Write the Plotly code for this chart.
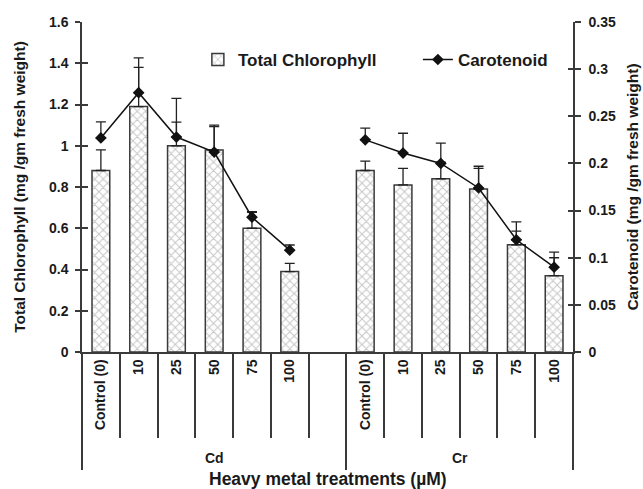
import plotly.graph_objects as go

sub_labels = ["Control (0)", "10", "25", "50", "75", "100"]
groups = ["Cd", "Cr"]

chl_cd = [0.88, 1.19, 1.00, 0.98, 0.60, 0.39]
chl_cd_err = [0.10, 0.19, 0.115, 0.12, 0.08, 0.04]
chl_cr = [0.88, 0.81, 0.84, 0.79, 0.52, 0.37]
chl_cr_err = [0.045, 0.08, 0.08, 0.10, 0.066, 0.087]

car_cd = [0.227, 0.275, 0.228, 0.212, 0.143, 0.108]
car_cd_err = [0.017, 0.037, 0.041, 0.027, 0.005, 0.0055]
car_cr = [0.225, 0.211, 0.200, 0.174, 0.119, 0.090]
car_cr_err = [0.0125, 0.021, 0.0216, 0.023, 0.019, 0.016]

# build slots: 6 Cd, one blank slot, 6 Cr
n = len(sub_labels)
xs = list(range(2 * n + 1))
chl = chl_cd + [None] + chl_cr
chl_err = chl_cd_err + [0] + chl_cr_err
car = car_cd + [None] + car_cr
car_err = car_cd_err + [0] + car_cr_err
zeros = [0] * len(xs)
tick_text = sub_labels + [""] + sub_labels
tick_pos = xs
short_bounds = [i + 0.5 for i in range(n - 1)] + [n - 0.5] + [n + 1 + i + 0.5 for i in range(n - 1)]
long_bounds = [-0.5, n + 0.5, 2 * n + 0.5]
group_centers = [(-0.5 + n + 0.5) / 2, (n + 0.5 + 2 * n + 0.5) / 2]
xr = [-0.5, 2 * n + 0.5]
yr_l = [0, 1.6]
yr_r = [0, 0.35]

FONT = "Liberation Sans, Arial, sans-serif"
AX = "#3a3a3a"
TXT = "#1a1a1a"

fig = go.Figure()
fig.add_trace(go.Bar(
    x=xs, y=chl, name="Total Chlorophyll", width=0.47,
    marker=dict(color="white", line=dict(color=AX, width=1.5),
                pattern=dict(shape="x", fgcolor="#8c8c8c", bgcolor="white", size=6, solidity=0.3)),
    error_y=dict(type="data", symmetric=False, array=chl_err, arrayminus=zeros, visible=True,
                 color="#222", thickness=1.3, width=5),
))
fig.add_trace(go.Scatter(
    x=xs, y=car, name="Carotenoid", yaxis="y2", mode="lines+markers",
    connectgaps=False,
    line=dict(color="#111", width=1.5),
    marker=dict(symbol="diamond", size=9, color="#111"),
    error_y=dict(type="data", symmetric=False, array=car_err, arrayminus=zeros, visible=True,
                 color="#222", thickness=1.3, width=5),
))

tickfont = dict(family=FONT, size=14, color=TXT, weight="bold")
titlefont = dict(family=FONT, size=15.5, color=TXT, weight="bold")

# invisible traces to activate overlay axes used only for tick marks
fig.add_trace(go.Scatter(x=[None], y=[None], xaxis="x2", yaxis="y", showlegend=False, hoverinfo="skip"))
fig.add_trace(go.Scatter(x=[None], y=[None], xaxis="x3", yaxis="y", showlegend=False, hoverinfo="skip"))
fig.add_trace(go.Scatter(x=[None], y=[None], xaxis="x", yaxis="y3", showlegend=False, hoverinfo="skip"))
fig.add_trace(go.Scatter(x=[None], y=[None], xaxis="x", yaxis="y4", showlegend=False, hoverinfo="skip"))

fig.update_layout(
    width=643, height=489,
    margin=dict(l=82, r=70, t=22, b=137, autoexpand=False),
    plot_bgcolor="white", paper_bgcolor="white",
    showlegend=True,
    legend=dict(orientation="h", x=0.236, y=0.885, xanchor="left", yanchor="middle",
                font=dict(family=FONT, size=17, color=TXT, weight="bold"),
                bgcolor="rgba(0,0,0,0)", entrywidth=175, entrywidthmode="pixels"),
    xaxis=dict(range=xr, tickmode="array", tickvals=tick_pos, ticktext=tick_text,
               tickangle=-90, ticks="", showline=True, linecolor=AX, linewidth=1.5,
               tickfont=tickfont, showgrid=False, zeroline=False, automargin=False),
    xaxis2=dict(overlaying="x", range=xr, side="bottom", tickmode="array", tickvals=short_bounds,
                ticks="outside", ticklen=85, tickwidth=1.5, tickcolor=AX, showticklabels=False,
                showline=False, showgrid=False, zeroline=False, automargin=False),
    xaxis3=dict(overlaying="x", range=xr, side="bottom", tickmode="array", tickvals=long_bounds,
                ticks="outside", ticklen=117, tickwidth=1.5, tickcolor=AX, showticklabels=False,
                showline=False, showgrid=False, zeroline=False, automargin=False),
    yaxis=dict(range=yr_l, dtick=0.2, ticks="outside", ticklen=5, tickwidth=1.5, tickcolor=AX,
               showline=True, linecolor=AX, linewidth=1.5, showgrid=False, zeroline=False,
               tickfont=tickfont, ticklabelstandoff=4, automargin=False,
               title=dict(text="Total Chlorophyll (mg /gm fresh weight)", font=titlefont, standoff=20)),
    yaxis3=dict(overlaying="y", range=yr_l, side="left", dtick=0.2, ticks="inside", ticklen=6,
                tickwidth=1.5, tickcolor=AX, showticklabels=False, showline=False, showgrid=False,
                zeroline=False, automargin=False),
    yaxis2=dict(overlaying="y", side="right", range=yr_r, dtick=0.05, ticks="outside", ticklen=6,
                tickwidth=1.5, tickcolor=AX, showline=True, linecolor=AX, linewidth=1.5,
                showgrid=False, zeroline=False, tickfont=tickfont, ticklabelstandoff=5,
                automargin=False,
                title=dict(text="Carotenoid (mg /gm fresh weight)", font=titlefont, standoff=12)),
    yaxis4=dict(overlaying="y", range=yr_r, side="right", dtick=0.05, ticks="inside", ticklen=5,
                tickwidth=1.5, tickcolor=AX, showticklabels=False, showline=False, showgrid=False,
                zeroline=False, automargin=False),
)

for g, c in zip(groups, group_centers):
    fig.add_annotation(x=c, xref="x", y=-0.32, yref="paper", text=g, showarrow=False,
                       font=tickfont, yanchor="middle")
fig.add_annotation(x=0.5, xref="paper", y=-0.385, yref="paper",
                   text="Heavy metal treatments (µM)", showarrow=False,
                   font=dict(family=FONT, size=17.5, color=TXT, weight="bold"), yanchor="middle")

fig.write_html("out.html")
